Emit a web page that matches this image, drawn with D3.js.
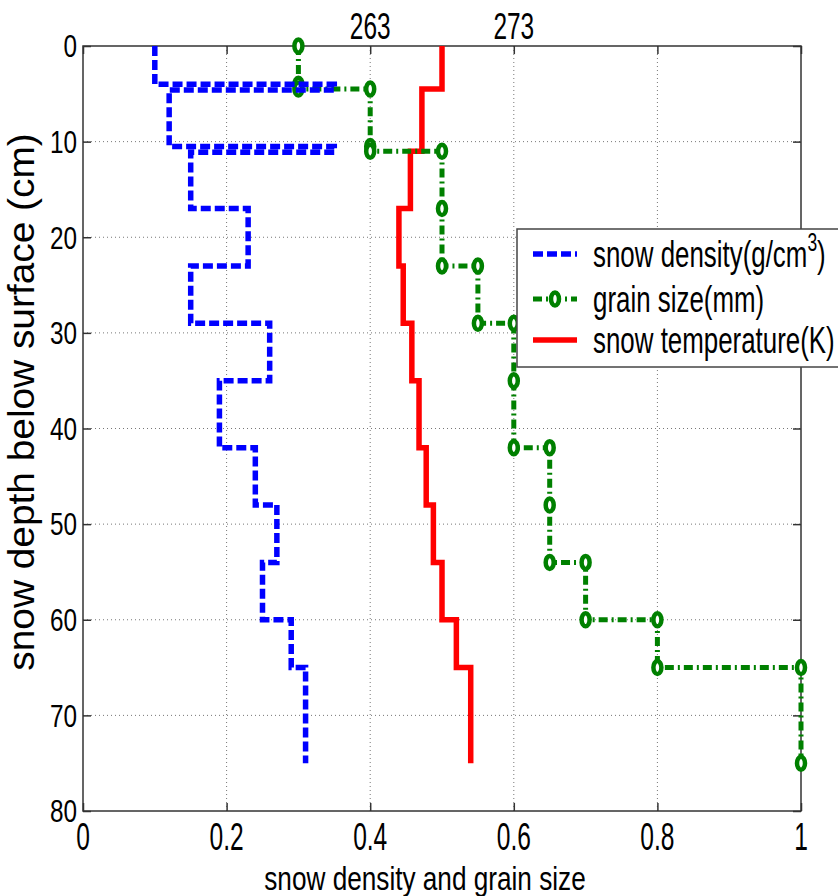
<!DOCTYPE html>
<html><head><meta charset="utf-8">
<script src="https://cdn.jsdelivr.net/npm/d3@7"></script>
<style>body{margin:0;background:#fff}svg{display:block}text{font-family:"Liberation Sans",Arial,sans-serif;fill:#000}</style>
</head><body><svg id="c" width="838" height="896"></svg>
<script>
// ---- data ----
const xTicks = [0, 0.2, 0.4, 0.6, 0.8, 1];
const yTicks = [0, 10, 20, 30, 40, 50, 60, 70, 80];
const tempTicks = [263, 273];
const densityDepth = [0, 4, 4, 4.6, 4.6, 10.5, 10.5, 11.1, 11.1, 17, 17, 23, 23, 29, 29, 35, 35, 42, 42, 48, 48, 54, 54, 60, 60, 65, 65, 75];
const densityValue = [0.1, 0.1, 0.35, 0.35, 0.12, 0.12, 0.35, 0.35, 0.15, 0.15, 0.23, 0.23, 0.15, 0.15, 0.26, 0.26, 0.19, 0.19, 0.24, 0.24, 0.27, 0.27, 0.25, 0.25, 0.29, 0.29, 0.31, 0.31];
const grainDepth = [0, 4, 4.5, 4.5, 10.5, 11, 11, 17, 23, 23, 29, 29, 35, 42, 42, 48, 54, 54, 60, 60, 65, 65, 75];
const grainValue = [0.3, 0.3, 0.3, 0.4, 0.4, 0.4, 0.5, 0.5, 0.5, 0.55, 0.55, 0.6, 0.6, 0.6, 0.65, 0.65, 0.65, 0.7, 0.7, 0.8, 0.8, 1, 1];
const tempDepth = [0, 4.5, 4.5, 11, 11, 17, 17, 23, 23, 29, 29, 35, 35, 42, 42, 48, 48, 54, 54, 60, 60, 65, 65, 75];
const tempValue = [268, 268, 266.6, 266.6, 265.8, 265.8, 265, 265, 265.3, 265.3, 265.9, 265.9, 266.4, 266.4, 266.9, 266.9, 267.4, 267.4, 268, 268, 269, 269, 270, 270];
const legendLabels = ["snow density(g/cm", "grain size(mm)", "snow temperature(K)"];

// ---- layout ----
const L = 83, R = 801, T = 46, B = 811;
const x = d3.scaleLinear().domain([0, 1]).range([L, R]);
const y = d3.scaleLinear().domain([0, 80]).range([T, B]);
const tx = d3.scaleLinear().domain([243, 293]).range([L, R]);
const svg = d3.select("#c");

function txt(g, px, py, s, size, sx, anchor, rot) {
  const gg = g.append("g").attr("transform", `translate(${px},${py}) rotate(${rot||0}) scale(${sx},1)`);
  return gg.append("text").attr("font-size", size).attr("text-anchor", anchor || "start")
    .attr("dominant-baseline", "central").text(s);
}

// grid
const grid = svg.append("g").attr("stroke", "#777").attr("stroke-width", 1).attr("stroke-dasharray", "1,3");
xTicks.slice(1, -1).forEach(v => grid.append("line").attr("x1", x(v)).attr("x2", x(v)).attr("y1", T).attr("y2", B));
yTicks.slice(1, -1).forEach(v => grid.append("line").attr("x1", L).attr("x2", R).attr("y1", y(v)).attr("y2", y(v)));

// axes via d3
const ax = svg.append("g");
ax.append("g").attr("transform", `translate(0,${B})`).call(d3.axisTop(x).tickValues(xTicks).tickSize(8).tickFormat(""));
ax.append("g").attr("transform", `translate(0,${T})`).call(d3.axisBottom(x).tickValues(xTicks).tickSize(8).tickFormat(""));
ax.append("g").attr("transform", `translate(${L},0)`).call(d3.axisRight(y).tickValues(yTicks).tickSize(8).tickFormat(""));
ax.append("g").attr("transform", `translate(${R},0)`).call(d3.axisLeft(y).tickValues(yTicks).tickSize(8).tickFormat(""));
ax.selectAll(".domain").remove();
ax.selectAll("line").attr("stroke", "#333").attr("stroke-width", 1.5);
svg.append("rect").attr("x", L).attr("y", T).attr("width", R - L).attr("height", B - T)
  .attr("fill", "none").attr("stroke", "#333").attr("stroke-width", 1.5);

// tick labels
const lab = svg.append("g");
xTicks.forEach(v => txt(lab, x(v), 836, d3.format("")(v), 39, 0.63, "middle"));
yTicks.forEach(v => txt(lab, 77, y(v), String(v), 32, 0.76, "end"));
tempTicks.forEach(v => txt(lab, tx(v), 27, String(v), 37, 0.66, "middle"));
txt(lab, 425, 878, "snow density and grain size", 34, 0.77, "middle");
txt(lab, 21, 402, "snow depth below surface (cm)", 37, 1.05, "middle", -90);

// series
const line = d3.line();
const dens = densityDepth.map((d, i) => [x(densityValue[i]), y(d)]);
const grain = grainDepth.map((d, i) => [x(grainValue[i]), y(d)]);
const temp = tempDepth.map((d, i) => [tx(tempValue[i]), y(d)]);
svg.append("path").attr("d", line(temp)).attr("fill", "none").attr("stroke", "#ff0000").attr("stroke-width", 5.5);
svg.append("path").attr("d", line(grain)).attr("fill", "none").attr("stroke", "#008000").attr("stroke-width", 5).attr("stroke-dasharray", "9,4,2,4");
svg.append("g").selectAll("ellipse").data(grain).join("ellipse")
  .attr("cx", d => d[0]).attr("cy", d => d[1]).attr("rx", 4).attr("ry", 6.5)
  .attr("fill", "#fff").attr("stroke", "#008000").attr("stroke-width", 4.5);
svg.append("path").attr("d", line(dens)).attr("fill", "none").attr("stroke", "#0000ff").attr("stroke-width", 5.5).attr("stroke-dasharray", "10,4");

// legend
const lg = svg.append("g");
lg.append("rect").attr("x", 517).attr("y", 229).attr("width", 330).attr("height", 138)
  .attr("fill", "#fff").attr("stroke", "#444").attr("stroke-width", 1.5);
const rowsY = [254, 299, 340];
lg.append("line").attr("x1", 533).attr("x2", 577).attr("y1", rowsY[0]).attr("y2", rowsY[0]).attr("stroke", "#0000ff").attr("stroke-width", 5.5).attr("stroke-dasharray", "10,4");
lg.append("line").attr("x1", 533).attr("x2", 577).attr("y1", rowsY[1]).attr("y2", rowsY[1]).attr("stroke", "#008000").attr("stroke-width", 5).attr("stroke-dasharray", "9,4,2,4");
lg.append("ellipse").attr("cx", 555).attr("cy", rowsY[1]).attr("rx", 4).attr("ry", 6.5).attr("fill", "#fff").attr("stroke", "#008000").attr("stroke-width", 4.5);
lg.append("line").attr("x1", 533).attr("x2", 577).attr("y1", rowsY[2]).attr("y2", rowsY[2]).attr("stroke", "#ff0000").attr("stroke-width", 5.5);
const t0 = txt(lg, 593, rowsY[0], legendLabels[0], 37, 0.7, "start");
t0.append("tspan").attr("font-size", 25).attr("dy", -12).text("3");
t0.append("tspan").attr("dy", 12).text(")");
txt(lg, 593, rowsY[1], legendLabels[1], 37, 0.7, "start");
txt(lg, 593, rowsY[2], legendLabels[2], 37, 0.7, "start");
</script></body></html>
